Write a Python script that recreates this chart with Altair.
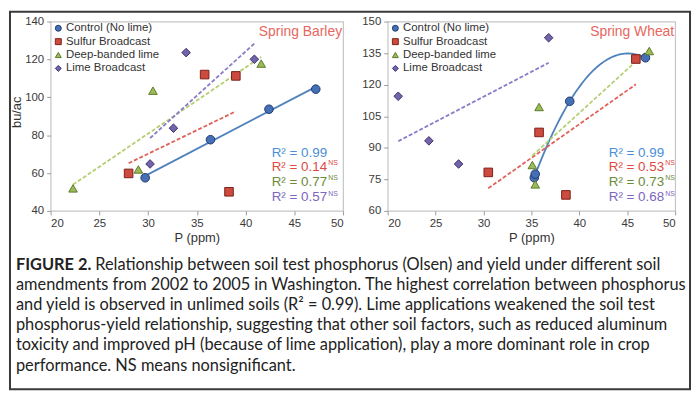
import altair as alt
import pandas as pd

# ---------------- data ----------------
treatments = ["Control (No lime)", "Sulfur Broadcast", "Deep-banded lime", "Lime Broadcast"]

barley_control_p = [29.7, 36.4, 42.4, 47.2]
barley_control_y = [57.5, 77.6, 93.7, 104.3]
barley_sulfur_p = [28.0, 35.8, 39.0, 38.3]
barley_sulfur_y = [59.8, 112.0, 111.3, 50.1]
barley_deep_p = [22.3, 29.0, 30.5, 41.6]
barley_deep_y = [51.9, 61.9, 103.5, 117.8]
barley_lime_p = [30.2, 32.6, 33.9, 40.9]
barley_lime_y = [64.8, 83.7, 123.6, 120.1]

wheat_control_p = [35.3, 35.4, 39.0, 46.9]
wheat_control_y = [75.8, 77.5, 112.1, 132.8]
wheat_sulfur_p = [30.5, 35.8, 38.6, 45.9]
wheat_sulfur_y = [78.3, 97.3, 67.6, 132.2]
wheat_deep_p = [35.1, 35.4, 35.8, 47.3]
wheat_deep_y = [81.8, 72.6, 109.4, 136.0]
wheat_lime_p = [21.1, 24.3, 27.4, 36.8]
wheat_lime_y = [114.5, 93.3, 82.3, 142.3]

x_ticks = [20, 25, 30, 35, 40, 45, 50]
barley_y_ticks = [40, 60, 80, 100, 120, 140]
wheat_y_ticks = [60, 75, 90, 105, 120, 135, 150]

barley_r2 = ["R² = 0.99", "R² = 0.14", "R² = 0.77", "R² = 0.57"]
wheat_r2 = ["R² = 0.99", "R² = 0.53", "R² = 0.73", "R² = 0.68"]
r2_ns = [False, True, True, True]

caption_bold = "FIGURE 2."
caption_lines = [
    "Relationship between soil test phosphorus (Olsen) and yield under different soil",
    "amendments from 2002 to 2005 in Washington. The highest correlation between phosphorus",
    "and yield is observed in unlimed soils (R² = 0.99). Lime applications weakened the soil test",
    "phosphorus-yield relationship, suggesting that other soil factors, such as reduced aluminum",
    "toxicity and improved pH (because of lime application), play a more dominant role in crop",
    "performance. NS means nonsignificant.",
]

# ---------------- styles ----------------
fills = ["#4570b5", "#cc4a3e", "#9bbb59", "#7363a8"]
strokes = ["#1f3a6e", "#7a2119", "#5d7a2a", "#3e3470"]
shapes = ["circle", "square", "triangle-up", "diamond"]
trend_colors = ["#4f81bd", "#e0605a", "#b3cf70", "#8a7cc8"]
r2_colors = ["#4a8fd8", "#e04a3f", "#6b8a3a", "#7b67c0"]
title_color = "#e8665e"
FONT = "Liberation Sans"


def make_df(ps, ys):
    rows = []
    for t, p_list, y_list in zip(treatments, ps, ys):
        for p, y in zip(p_list, y_list):
            rows.append({"treatment": t, "P": p, "Y": y})
    return pd.DataFrame(rows)


barley_df = make_df(
    [barley_control_p, barley_sulfur_p, barley_deep_p, barley_lime_p],
    [barley_control_y, barley_sulfur_y, barley_deep_y, barley_lime_y],
)
wheat_df = make_df(
    [wheat_control_p, wheat_sulfur_p, wheat_deep_p, wheat_lime_p],
    [wheat_control_y, wheat_sulfur_y, wheat_deep_y, wheat_lime_y],
)

one = pd.DataFrame({"k": [0]})


def panel(df, width, height, y_domain, y_ticks, y_title, r2_labels, control_method, title, extra=None):
    x_enc = alt.X(
        "P:Q",
        scale=alt.Scale(domain=[20, 50], nice=False, zero=False),
        axis=alt.Axis(values=x_ticks, title="P (ppm)", titleY=27, titleBaseline="middle"),
    )
    if y_title:
        y_axis = alt.Axis(values=y_ticks, title=y_title, titleX=-34, titleY=91,
                          titleBaseline="middle", titleAlign="center")
    else:
        y_axis = alt.Axis(values=y_ticks, title=None)
    y_enc = alt.Y("Y:Q", scale=alt.Scale(domain=y_domain, nice=False, zero=False), axis=y_axis)

    layers = []
    if extra:
        layers.extend(extra)

    # trend lines
    for i, t in enumerate(treatments):
        base = alt.Chart(df).transform_filter(alt.datum.treatment == t)
        if i == 0 and control_method == "poly":
            base = base.transform_regression("P", "Y", method="poly", order=2)
        else:
            base = base.transform_regression("P", "Y", method="linear")
        if i == 0:
            mk = base.mark_line(color=trend_colors[i], strokeWidth=1.8)
        else:
            mk = base.mark_line(color=trend_colors[i], strokeWidth=1.8, strokeDash=[4, 2])
        layers.append(mk.encode(x=x_enc, y=y_enc))

    leg = alt.Legend(title=None, orient="none", legendX=2, legendY=1)
    pts = alt.Chart(df).mark_point(filled=True, size=75, strokeWidth=1, opacity=1).encode(
        x=x_enc,
        y=y_enc,
        color=alt.Color("treatment:N", scale=alt.Scale(domain=treatments, range=fills), legend=leg),
        shape=alt.Shape("treatment:N", scale=alt.Scale(domain=treatments, range=shapes), legend=leg),
        stroke=alt.Stroke("treatment:N", scale=alt.Scale(domain=treatments, range=strokes), legend=leg),
    )
    layers.append(pts)

    # R² labels
    r2_y = [132.5, 147, 162, 177.5]
    for i, lab in enumerate(r2_labels):
        layers.append(
            alt.Chart(one).mark_text(align="left", baseline="middle", font=FONT, fontSize=13.5,
                                     color=r2_colors[i]).encode(
                x=alt.value(223), y=alt.value(r2_y[i]), text=alt.value(lab))
        )
        if r2_ns[i]:
            layers.append(
                alt.Chart(one).mark_text(align="left", baseline="middle", font=FONT, fontSize=7,
                                         color=r2_colors[i]).encode(
                    x=alt.value(280), y=alt.value(r2_y[i] - 4), text=alt.value("NS"))
            )

    layers.append(
        alt.Chart(one).mark_text(align="right", baseline="middle", font=FONT, fontSize=14,
                                 color=title_color).encode(
            x=alt.value(width - 1), y=alt.value(11), text=alt.value(title))
    )
    return alt.layer(*layers).properties(width=width, height=height)


# frame and caption drawn in the left panel's coordinate system
extras = [
    alt.Chart(one).mark_rect(fill="transparent", stroke="#3a3a3a", strokeWidth=2).encode(
        x=alt.value(-41), x2=alt.value(645), y=alt.value(-10), y2=alt.value(371)),
    alt.Chart(one).mark_text(align="left", baseline="middle", font="Lato", fontSize=16.5,
                             fontWeight="bold", color="#222222").encode(
        x=alt.value(-35), y=alt.value(246), text=alt.value(caption_bold)),
]
for i, line in enumerate(caption_lines):
    extras.append(
        alt.Chart(one).mark_text(align="left", baseline="middle", font="Lato", fontSize=16.5,
                                 color="#222222").encode(
            x=alt.value(45 if i == 0 else -35), y=alt.value(246 + 20.2 * i), text=alt.value(line))
    )

left = panel(barley_df, 295, 191, [40, 140], barley_y_ticks, "bu/ac", barley_r2, "linear",
             "Spring Barley", extra=extras)
right = panel(wheat_df, 290, 191, [60, 150], wheat_y_ticks, None, wheat_r2, "poly",
              "Spring Wheat")

chart = (
    alt.hconcat(left, right, spacing=45, bounds="flush")
    .resolve_scale(color="independent", shape="independent", stroke="independent")
    .properties(padding=0, background="white")
    .configure_view(stroke="#c6c6c6", strokeWidth=1.2)
    .configure_axis(domain=False, grid=False, tickColor="#9a9a9a", tickSize=4,
                    labelFont=FONT, labelFontSize=11.5, labelColor="#3a3a3a", labelPadding=3,
                    titleFont=FONT, titleFontSize=13, titleColor="#333333", titleFontWeight="normal")
    .configure_legend(labelFont=FONT, labelFontSize=11.5, labelColor="#333333", symbolSize=36,
                      symbolStrokeWidth=1, rowPadding=0.5, labelOffset=2, padding=0)
)

chart.save("out.html", embed_options={"renderer": "svg", "actions": False})
